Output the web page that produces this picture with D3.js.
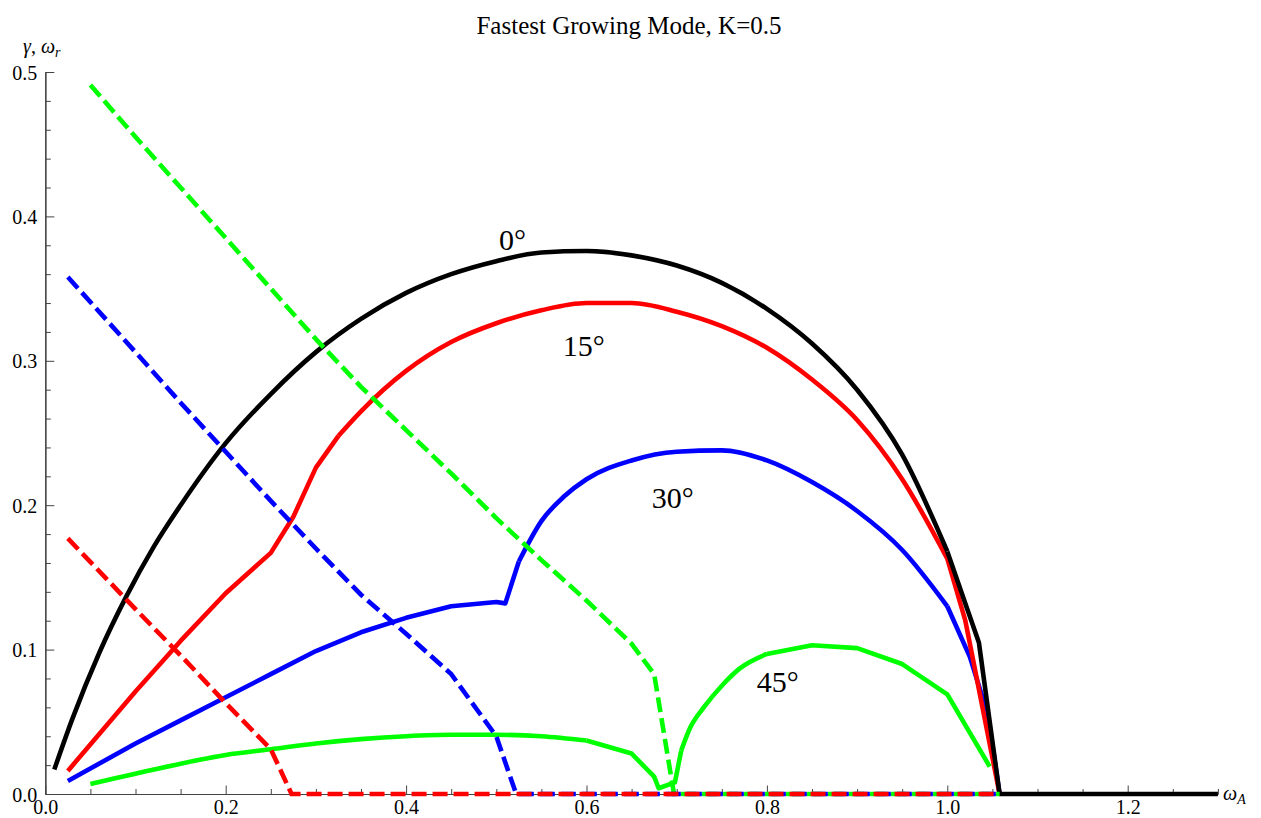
<!DOCTYPE html>
<html>
<head>
<meta charset="utf-8">
<script src="https://cdn.jsdelivr.net/npm/d3@7"></script>
<style>
  html, body { margin: 0; padding: 0; background: #fff; }
  svg { display: block; }
  text { font-family: "Liberation Serif", "Times New Roman", serif; fill: #000; }
</style>
</head>
<body>
<svg id="chart" width="1261" height="818"></svg>
<script>
// ---------- data ----------
const chartTitle = "Fastest Growing Mode, K=0.5";

// growth rate gamma (solid)
const gamma0X = [0.01,0.03,0.06,0.09,0.12,0.15,0.2,0.25,0.3,0.35,0.4,0.45,0.5,0.55,0.6,0.65,0.7,0.75,0.8,0.85,0.9,0.95,1.0,1.035,1.058,1.3];
const gamma0Y = [0.017,0.052,0.098,0.137,0.171,0.200,0.243,0.277,0.306,0.329,0.347,0.360,0.369,0.375,0.376,0.373,0.366,0.354,0.336,0.312,0.280,0.235,0.168,0.105,0,0];

const gamma15X = [0.025,0.1,0.15,0.2,0.25,0.275,0.3,0.325,0.35,0.4,0.45,0.5,0.55,0.6,0.65,0.7,0.75,0.8,0.85,0.9,0.95,1.0,1.02,1.058];
const gamma15Y = [0.016,0.071,0.106,0.139,0.167,0.192,0.226,0.248,0.265,0.293,0.313,0.326,0.335,0.340,0.340,0.334,0.324,0.309,0.287,0.259,0.218,0.163,0.120,0];

const gamma30X = [0.025,0.1,0.15,0.2,0.25,0.3,0.35,0.4,0.45,0.5,0.51,0.525,0.55,0.575,0.6,0.65,0.7,0.75,0.8,0.85,0.9,0.95,1.0,1.025,1.045,1.058];
const gamma30Y = [0.009,0.035,0.051,0.067,0.083,0.099,0.112,0.122,0.130,0.133,0.132,0.161,0.189,0.206,0.218,0.231,0.237,0.238,0.231,0.216,0.196,0.169,0.130,0.095,0.055,0];

const gamma45X = [0.05,0.1,0.15,0.2,0.25,0.3,0.35,0.4,0.45,0.5,0.55,0.6,0.65,0.675,0.68,0.698,0.705,0.715,0.73,0.75,0.77,0.8,0.85,0.9,0.95,1.0,1.047];
const gamma45Y = [0.007,0.014,0.021,0.027,0.031,0.035,0.038,0.040,0.041,0.041,0.040,0.037,0.028,0.012,0.004,0.008,0.030,0.046,0.060,0.075,0.087,0.097,0.103,0.101,0.090,0.069,0.019];

// real frequency omega_r (dashed)
const omegaR15X = [0.025,0.1,0.15,0.2,0.25,0.273,1.058];
const omegaR15Y = [0.177,0.128,0.096,0.063,0.031,0,0];

const omegaR30X = [0.025,0.1,0.15,0.2,0.25,0.3,0.35,0.4,0.45,0.5,0.522,1.058];
const omegaR30Y = [0.358,0.306,0.271,0.237,0.203,0.170,0.138,0.111,0.083,0.040,0,0];

const omegaR45X = [0.05,0.1,0.15,0.2,0.25,0.3,0.35,0.4,0.45,0.5,0.55,0.6,0.65,0.675,0.697,1.058];
const omegaR45Y = [0.491,0.455,0.420,0.385,0.350,0.315,0.282,0.252,0.222,0.191,0.162,0.134,0.104,0.083,0,0];

// angle annotations (data coordinates)
const angleLabels = ["0°","15°","30°","45°"];
const angleLabelX = [0.503,0.5736,0.6723,0.7887];
const angleLabelY = [0.3767,0.3033,0.1981,0.0706];

const xMajorTicks = [0,0.2,0.4,0.6,0.8,1.0,1.2];
const yMajorTicks = [0,0.1,0.2,0.3,0.4,0.5];

// ---------- drawing ----------
const svg = d3.select("#chart");
const x = d3.scaleLinear().domain([0,1.3]).range([45.3,1217.9]);
const y = d3.scaleLinear().domain([0,0.5]).range([794,72]);

const axisColor = "#444";

// title
svg.append("text").attr("x",629).attr("y",34).attr("text-anchor","middle")
  .style("font-size","25px").text(chartTitle);

// ticks
const xMinor = d3.range(0,1.3001,0.05).filter(v => !xMajorTicks.some(m => Math.abs(m-v)<1e-6));
const yMinor = d3.range(0,0.5001,0.02).filter(v => !yMajorTicks.some(m => Math.abs(m-v)<1e-6));

const gx = svg.append("g").attr("transform",`translate(0,${y(0)})`);
gx.call(d3.axisBottom(x).tickValues(xMinor).tickSizeInner(-5).tickSizeOuter(0).tickFormat(""));
const gx2 = svg.append("g").attr("transform",`translate(0,${y(0)})`);
gx2.call(d3.axisBottom(x).tickValues(xMajorTicks).tickSizeInner(-8.5).tickSizeOuter(0).tickPadding(2).tickFormat(d3.format(".1f")));

const gy = svg.append("g").attr("transform",`translate(${x(0)},0)`);
gy.call(d3.axisLeft(y).tickValues(yMinor).tickSizeInner(-5.5).tickSizeOuter(0).tickFormat(""));
const gy2 = svg.append("g").attr("transform",`translate(${x(0)},0)`);
gy2.call(d3.axisLeft(y).tickValues(yMajorTicks).tickSizeInner(-9).tickSizeOuter(0).tickPadding(8).tickFormat(d3.format(".1f")));

svg.selectAll(".domain").attr("stroke",axisColor).attr("stroke-width",1.2);
svg.selectAll(".tick line").attr("stroke",axisColor).attr("stroke-width",1);
svg.selectAll(".tick text").attr("font-family",null).attr("font-size",null)
  .style("font-size","20px").style("font-family","'Liberation Serif', 'Times New Roman', serif").attr("fill","#000");
svg.selectAll("g").attr("font-family",null).attr("font-size",null);
gx2.selectAll(".tick text").attr("dy","0.92em");
gy2.selectAll(".tick text").attr("dy","0.35em");

// axis labels
const yl = svg.append("text").attr("x",23).attr("y",53).style("font-size","20px");
yl.append("tspan").style("font-style","italic").text("γ");
yl.append("tspan").text(", ");
yl.append("tspan").style("font-style","italic").text("ω");
yl.append("tspan").style("font-style","italic").style("font-size","14px").attr("dy",4).text("r");

const xl = svg.append("text").attr("x",1223).attr("y",800).style("font-size","20px");
xl.append("tspan").style("font-style","italic").text("ω");
xl.append("tspan").style("font-style","italic").style("font-size","14px").attr("dy",4).text("A");

// curves
const zip = (a,b) => a.map((v,i) => [v,b[i]]);
const lin = d3.line().x(d => x(d[0])).y(d => y(d[1]));
const smooth = d3.line().curve(d3.curveMonotoneX).x(d => x(d[0])).y(d => y(d[1]));

// split a point list into chunks: smooth inside given x-spans, straight elsewhere
function chunks(pts, spans) {
  const out = [];
  let cur = [pts[0]];
  const isSmooth = (a,b) => spans.some(s => a[0] >= s[0]-1e-9 && b[0] <= s[1]+1e-9);
  let mode = pts.length > 1 ? isSmooth(pts[0],pts[1]) : false;
  for (let i = 1; i < pts.length; i++) {
    const m = isSmooth(pts[i-1], pts[i]);
    if (m !== mode) {
      out.push({pts: cur, smooth: mode});
      cur = [pts[i-1]];
      mode = m;
    }
    cur.push(pts[i]);
  }
  out.push({pts: cur, smooth: mode});
  return out;
}

const solids = [
  {xs: gamma45X, ys: gamma45Y, color: "#00ff00", spans: [[0.05,0.6],[0.705,0.8]]},
  {xs: gamma30X, ys: gamma30Y, color: "#0000ff", spans: [[0.525,1.0]]},
  {xs: gamma15X, ys: gamma15Y, color: "#ff0000", spans: [[0.325,1.0]]},
  {xs: gamma0X,  ys: gamma0Y,  color: "#000000", spans: [[0.01,1.0]]}
];
const dashed = [
  {xs: omegaR45X, ys: omegaR45Y, color: "#00ff00"},
  {xs: omegaR30X, ys: omegaR30Y, color: "#0000ff"},
  {xs: omegaR15X, ys: omegaR15Y, color: "#ff0000"}
];

solids.forEach(s => {
  const g = svg.append("g");
  chunks(zip(s.xs, s.ys), s.spans).forEach(c => {
    g.append("path")
      .attr("d", (c.smooth ? smooth : lin)(c.pts))
      .attr("fill","none").attr("stroke", s.color)
      .attr("stroke-width",4.6).attr("stroke-linejoin","round").attr("stroke-linecap","butt");
  });
});

svg.append("g").selectAll("path").data(dashed).join("path")
  .attr("d", s => lin(zip(s.xs,s.ys)))
  .attr("fill","none").attr("stroke", s => s.color)
  .attr("stroke-width",4.6).attr("stroke-dasharray","15,6");

// angle labels
svg.append("g").selectAll("text").data(angleLabels).join("text")
  .attr("x",(d,i) => x(angleLabelX[i]))
  .attr("y",(d,i) => y(angleLabelY[i]))
  .style("font-size","30px")
  .text(d => d);
</script>
</body>
</html>
